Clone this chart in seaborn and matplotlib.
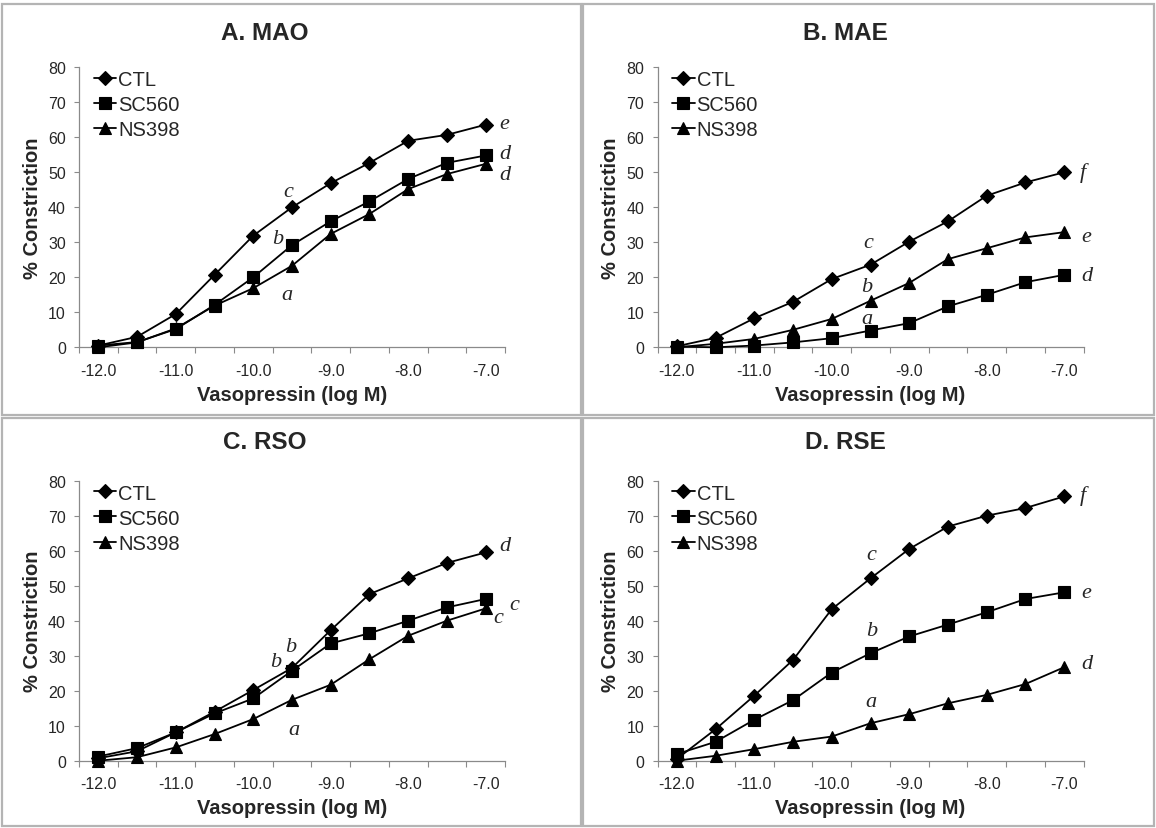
import numpy as np
import pandas as pd
import matplotlib
matplotlib.use("Agg")
import matplotlib.pyplot as plt
from matplotlib.patches import Rectangle
import seaborn as sns

sns.set_style("white")
plt.rcParams['font.family'] = ['Liberation Sans', 'DejaVu Sans']
plt.rcParams['axes.unicode_minus'] = False

# vasopressin dose, log M
log_dose = [-12.0, -11.5, -11.0, -10.5, -10.0, -9.5, -9.0, -8.5, -8.0, -7.5, -7.0]
x_tick_vals = [-12.0, -11.0, -10.0, -9.0, -8.0, -7.0]
x_tick_labels = ["-12.0", "-11.0", "-10.0", "-9.0", "-8.0", "-7.0"]
y_ticks = [0, 10, 20, 30, 40, 50, 60, 70, 80]
groups = ["CTL", "SC560", "NS398"]

# A. MAO
mao_ctl = [0.5, 3.0, 9.5, 20.7, 31.9, 40.0, 46.9, 52.7, 59.0, 60.7, 63.6]
mao_sc560 = [0.5, 1.5, 5.2, 12.1, 20.0, 29.2, 36.0, 41.7, 48.1, 52.7, 54.8]
mao_ns398 = [0.0, 1.4, 5.4, 11.9, 16.9, 23.3, 32.4, 38.1, 45.2, 49.5, 52.4]

# B. MAE
mae_ctl = [0.3, 2.7, 8.3, 13.0, 19.5, 23.6, 30.2, 36.0, 43.3, 47.1, 50.0]
mae_sc560 = [0.2, 0.0, 0.5, 1.4, 2.6, 4.8, 6.9, 11.7, 15.0, 18.6, 20.7]
mae_ns398 = [0.0, 1.0, 2.4, 5.0, 8.1, 13.3, 18.4, 25.2, 28.3, 31.4, 32.9]

# C. RSO
rso_ctl = [0.7, 2.7, 8.1, 14.0, 20.2, 26.5, 37.3, 47.6, 52.1, 56.5, 59.5]
rso_sc560 = [1.2, 3.6, 8.1, 13.5, 17.8, 25.7, 33.5, 36.4, 40.0, 43.8, 46.2]
rso_ns398 = [0.0, 1.0, 3.8, 7.6, 11.9, 17.4, 21.7, 29.0, 35.7, 40.0, 43.5]

# D. RSE
rse_ctl = [0.5, 9.0, 18.6, 28.8, 43.3, 52.1, 60.5, 66.9, 70.0, 72.2, 75.5]
rse_sc560 = [1.9, 5.4, 11.7, 17.3, 25.2, 30.7, 35.5, 38.9, 42.4, 46.2, 48.1]
rse_ns398 = [0.0, 1.4, 3.3, 5.4, 6.9, 10.7, 13.3, 16.4, 18.8, 21.9, 26.7]

# significance letters (x, y, letter)
mao_letters = [(-6.82, 63.8, "e"), (-6.82, 55.5, "d"), (-6.82, 49.5, "d"),
               (-9.55, 44.5, "c"), (-9.69, 31.1, "b"), (-9.56, 15.2, "a")]
mae_letters = [(-6.8, 50.0, "f"), (-6.78, 31.7, "e"), (-6.78, 20.5, "d"),
               (-9.53, 30.0, "c"), (-9.55, 17.4, "b"), (-9.55, 8.1, "a")]
rso_letters = [(-6.82, 61.4, "d"), (-6.7, 44.5, "c"), (-6.9, 41.0, "c"),
               (-9.71, 28.4, "b"), (-9.52, 32.6, "b"), (-9.47, 9.0, "a")]
rse_letters = [(-6.8, 75.9, "f"), (-6.78, 48.1, "e"), (-6.78, 27.8, "d"),
               (-9.49, 58.9, "c"), (-9.49, 37.1, "b"), (-9.49, 17.0, "a")]

panels = [
    ("A. MAO", [mao_ctl, mao_sc560, mao_ns398], mao_letters),
    ("B. MAE", [mae_ctl, mae_sc560, mae_ns398], mae_letters),
    ("C. RSO", [rso_ctl, rso_sc560, rso_ns398], rso_letters),
    ("D. RSE", [rse_ctl, rse_sc560, rse_ns398], rse_letters),
]

W, H = 1156, 829
# pixel layout: (axes left, axes top, box left, box top, box right, box bottom, title x, title y)
layout = [
    (79, 68.3, 2, 5, 581, 416, 265, 33),
    (657.5, 68.3, 583, 5, 1154, 416, 845, 33),
    (79, 481.7, 2, 419, 581, 827, 265, 443),
    (657.5, 481.7, 583, 419, 1154, 827, 845, 443),
]
ax_w, ax_h = 426, 280

markers = {"CTL": "D", "SC560": "s", "NS398": "^"}
msizes = {"CTL": 7.0, "SC560": 8.6, "NS398": 8.8}
axis_gray = "#8a8a8a"

fig = plt.figure(figsize=(W / 100, H / 100), dpi=100)

for (title, series, letters), (axl, axt, bl, bt, br, bb, tx, ty) in zip(panels, layout):
    # panel frame
    fig.patches.append(Rectangle((bl / W, 1 - bb / H), (br - bl) / W, (bb - bt) / H,
                                 transform=fig.transFigure, fill=False,
                                 edgecolor="#b4b4b4", lw=1.6, zorder=0))
    ax = fig.add_axes([axl / W, 1 - (axt + ax_h) / H, ax_w / W, ax_h / H])

    df = pd.DataFrame({
        "dose": log_dose * 3,
        "value": series[0] + series[1] + series[2],
        "group": np.repeat(groups, len(log_dose)),
    })
    for g in groups:
        sub = df[df["group"] == g]
        sns.lineplot(data=sub, x="dose", y="value", ax=ax, color="black",
                     marker=markers[g], markersize=msizes[g],
                     markeredgecolor="black", markerfacecolor="black",
                     markeredgewidth=0.8, linewidth=1.3, label=g,
                     clip_on=False, zorder=3)

    for lx, ly, lt in letters:
        ax.text(lx, ly, lt, family=["Liberation Serif", "DejaVu Serif"],
                style="italic", fontsize=16, ha="left" if lx > -7 else "center",
                va="center")

    ax.set_xlim(-12.25, -6.75)
    ax.set_ylim(0, 80)
    ax.set_xticks(x_tick_vals)
    ax.set_xticklabels(x_tick_labels)
    ax.set_xticks(np.arange(-12.25, -6.7, 0.5), minor=True)
    ax.set_yticks(y_ticks)
    ax.tick_params(axis="x", which="major", length=0, pad=11, labelsize=11.5)
    ax.tick_params(axis="x", which="minor", length=4, width=0.8, color=axis_gray,
                   direction="out", bottom=True)
    ax.tick_params(axis="y", length=3.5, width=0.8, color=axis_gray, direction="out",
                   pad=6, labelsize=11.5, left=True)
    for s in ["top", "right"]:
        ax.spines[s].set_visible(False)
    for s in ["left", "bottom"]:
        ax.spines[s].set_color(axis_gray)
        ax.spines[s].set_linewidth(0.9)

    ax.set_xlabel("Vasopressin (log M)", fontsize=14.5, fontweight="bold")
    ax.set_ylabel("% Constriction", fontsize=14.5, fontweight="bold")
    ax.xaxis.set_label_coords(0.5, -0.135)
    ax.yaxis.set_label_coords(-0.087, 0.5)

    ax.legend(loc="upper left", bbox_to_anchor=(0.035, 0.99), frameon=False,
              fontsize=14.5, handlelength=1.1, handletextpad=0.1, labelspacing=0.3,
              borderpad=0, borderaxespad=0)

    fig.text(tx / W, 1 - ty / H, title, ha="center", va="center",
             fontsize=17.5, fontweight="bold")

fig.savefig("out.png", dpi=100)
